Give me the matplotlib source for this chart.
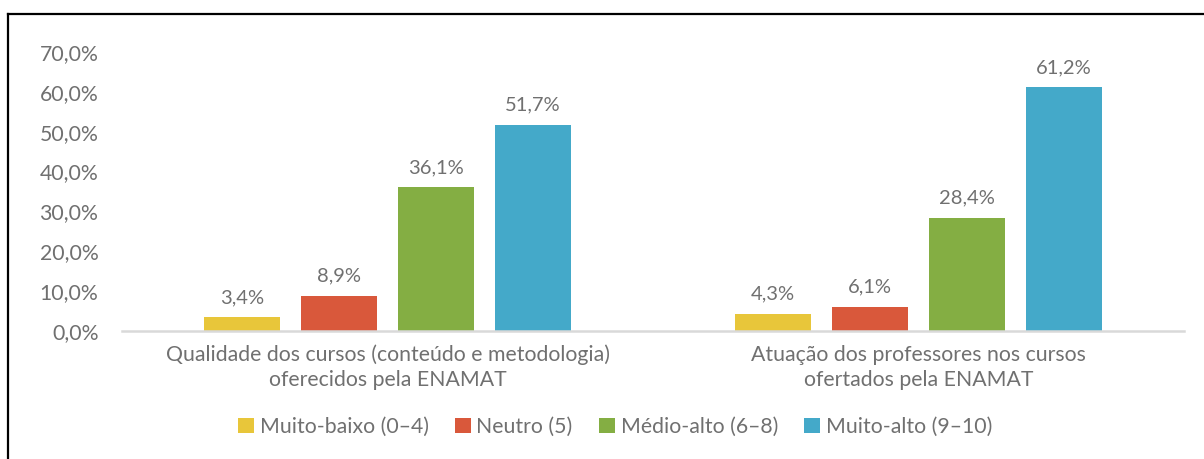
import matplotlib
matplotlib.use("Agg")
import matplotlib.pyplot as plt
from matplotlib.lines import Line2D
import numpy as np

categories = ["Qualidade dos cursos (conteúdo e metodologia)\noferecidos pela ENAMAT",
              "Atuação dos professores nos cursos\nofertados pela ENAMAT"]
series_names = ["Muito-baixo (0–4)", "Neutro (5)", "Médio-alto (6–8)", "Muito-alto (9–10)"]
values = {
    "Muito-baixo (0–4)": [3.4, 4.3],
    "Neutro (5)": [8.9, 6.1],
    "Médio-alto (6–8)": [36.1, 28.4],
    "Muito-alto (9–10)": [51.7, 61.2],
}
colors = ["#E8C63A", "#D9583B", "#84AE43", "#44A9C9"]
yticks = [0, 10, 20, 30, 40, 50, 60, 70]

plt.rcParams['font.family'] = ['Lato', 'DejaVu Sans']
text_color = "#707070"

fig = plt.figure(figsize=(12.04, 4.59), dpi=100)
ax = fig.add_axes([122/1204, 1-331/459, (1184-122)/1204, (331-52)/459])

x = np.arange(len(categories))
width = 0.143
step = 0.1827
for i, name in enumerate(series_names):
    pos = x + (i - 1.5) * step
    bars = ax.bar(pos, values[name], width=width, color=colors[i], label=name, zorder=2)
    for b, v in zip(bars, values[name]):
        ax.annotate(f"{v:.1f}%".replace(".", ","), (b.get_x() + b.get_width()/2, v),
                    xytext=(0, 8), textcoords="offset points", ha="center", va="bottom",
                    fontsize=14.5, color=text_color)

ax.set_xlim(-0.5, 1.5)
ax.set_ylim(0, 70)
ax.set_yticks(yticks)
ax.set_yticklabels([f"{t:.1f}%".replace(".", ",") for t in yticks], fontsize=15.3, color=text_color)
ax.set_xticks(x)
ax.set_xticklabels(categories, fontsize=15.3, color=text_color, linespacing=1.3)
ax.tick_params(axis='both', length=0)
ax.tick_params(axis='y', pad=17)
ax.tick_params(axis='x', pad=10)
for s in ["top", "right", "left"]:
    ax.spines[s].set_visible(False)
ax.spines["bottom"].set_color("#D9D9D9")
ax.spines["bottom"].set_linewidth(1.8)

leg = fig.legend(loc="center", bbox_to_anchor=(0.511, 1-427/459), ncol=4, frameon=False,
                 fontsize=15.3, handlelength=0.75, handleheight=0.75, handletextpad=0.25,
                 columnspacing=1.25)
for t in leg.get_texts():
    t.set_color(text_color)

# chart border (top and left)
fig.add_artist(Line2D([8/1204, 1], [1-14/459, 1-14/459], transform=fig.transFigure, color="black", lw=1.6))
fig.add_artist(Line2D([8/1204, 8/1204], [0, 1-14/459], transform=fig.transFigure, color="black", lw=1.6))

fig.savefig("out.png", dpi=100)
